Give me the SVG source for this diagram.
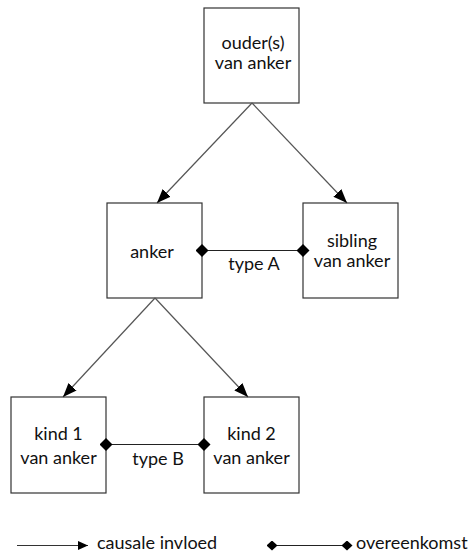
<svg xmlns="http://www.w3.org/2000/svg" width="474" height="556" viewBox="0 0 474 556">
<defs>
<style>
.box{fill:#fff;stroke:#333;stroke-width:1.2}
.lbl{font-family:Lato,"Open Sans","DejaVu Sans",sans-serif;font-size:18px;fill:#111;text-anchor:middle}
.cause{stroke:#555;stroke-width:1.2;fill:none;marker-end:url(#arr)}
.match{stroke:#222;stroke-width:1.2;fill:none;marker-start:url(#dia);marker-end:url(#dia)}
.lcause{stroke:#333;stroke-width:1.2;fill:none;marker-end:url(#arrs)}
.lmatch{stroke:#222;stroke-width:1.2;fill:none;marker-start:url(#dias);marker-end:url(#dias)}
</style>
<marker id="arr" viewBox="0 0 14 11" refX="14" refY="5.5" markerWidth="14" markerHeight="11" markerUnits="userSpaceOnUse" orient="auto">
<path d="M0,0 L14,5.5 L0,11 Z" fill="#000"/>
</marker>
<marker id="arrs" viewBox="0 0 10 9" refX="10" refY="4.5" markerWidth="10" markerHeight="9" markerUnits="userSpaceOnUse" orient="auto">
<path d="M0,0 L10,4.5 L0,9 Z" fill="#000"/>
</marker>
<marker id="dia" viewBox="0 0 13 13" refX="6.5" refY="6.5" markerWidth="13" markerHeight="13" markerUnits="userSpaceOnUse" orient="auto">
<path d="M0,6.5 L6.5,0 L13,6.5 L6.5,13 Z" fill="#000"/>
</marker>
<marker id="dias" viewBox="0 0 11 10" refX="5.5" refY="5" markerWidth="11" markerHeight="10" markerUnits="userSpaceOnUse" orient="auto">
<path d="M0,5 L5.5,0 L11,5 L5.5,10 Z" fill="#000"/>
</marker>
</defs>
<rect width="474" height="556" fill="#fff"/>
<g id="ouders">
<rect class="box" x="204" y="8" width="95" height="95"/>
<text class="lbl" x="253" y="49">ouder(s)</text>
<text class="lbl" x="253" y="69">van anker</text>
</g>
<g id="anker">
<rect class="box" x="107" y="203" width="95" height="95"/>
<text class="lbl" x="152" y="258">anker</text>
</g>
<g id="sibling">
<rect class="box" x="303" y="203" width="95" height="95"/>
<text class="lbl" x="352" y="247">sibling</text>
<text class="lbl" x="352" y="267">van anker</text>
</g>
<g id="kind1">
<rect class="box" x="11" y="397" width="95" height="96"/>
<text class="lbl" x="58.5" y="440">kind 1</text>
<text class="lbl" x="58.5" y="464">van anker</text>
</g>
<g id="kind2">
<rect class="box" x="204" y="397" width="95" height="96"/>
<text class="lbl" x="251.5" y="440">kind 2</text>
<text class="lbl" x="251.5" y="464">van anker</text>
</g>
<g id="connectors">
<line class="cause" x1="252" y1="103" x2="157" y2="203"/>
<line class="cause" x1="252" y1="103" x2="347" y2="203"/>
<line class="cause" x1="155" y1="298" x2="63" y2="397"/>
<line class="cause" x1="155" y1="298" x2="248" y2="397"/>
<line class="match" x1="202" y1="250.5" x2="303" y2="250.5"/>
<text class="lbl" x="254" y="270">type A</text>
<line class="match" x1="106" y1="444.5" x2="204" y2="444.5"/>
<text class="lbl" x="158" y="465">type B</text>
</g>
<g id="legend">
<line class="lcause" x1="17" y1="545.5" x2="88" y2="545.5"/>
<text class="lbl" x="97" y="549" style="text-anchor:start">causale invloed</text>
<line class="lmatch" x1="272" y1="545.5" x2="347" y2="545.5"/>
<text class="lbl" x="356" y="549" style="text-anchor:start">overeenkomst</text>
</g>
</svg>
